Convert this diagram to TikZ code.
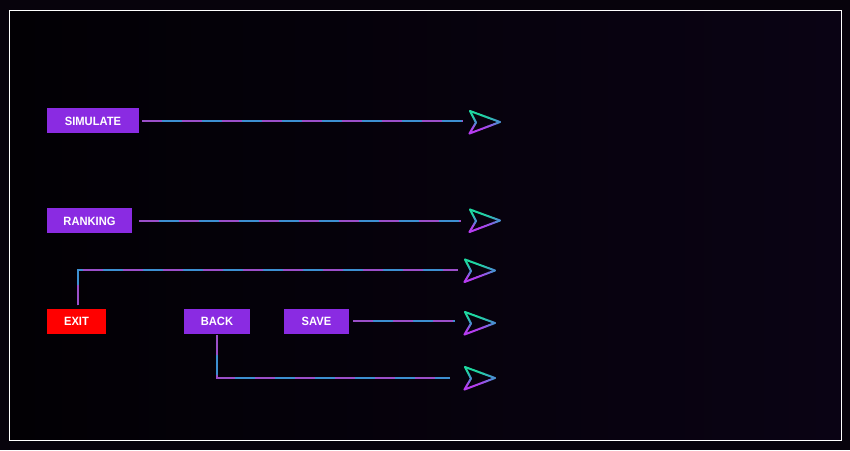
\documentclass[tikz,border=0pt]{standalone}
\usepackage{fontspec}
\setmainfont{Liberation Sans}
\newfontfamily\btnfont[FakeStretch=0.93]{Liberation Sans}
\definecolor{bgout}{HTML}{07030C}
\definecolor{bgleft}{HTML}{020004}
\definecolor{bgright}{HTML}{0A0314}
\definecolor{btnpurple}{HTML}{8A2BE2}
\definecolor{btnred}{HTML}{FF0000}
\definecolor{lineblue}{HTML}{3D8FD1}
\definecolor{linepurple}{HTML}{9B4FC9}
\definecolor{icongreen}{HTML}{1ED8A0}
\definecolor{iconblue}{HTML}{4A8FD0}
\definecolor{iconpurple}{HTML}{B63CF0}
\newcommand\gradseg[6]{%
  \foreach \i in {0,...,9}{%
    \pgfmathsetmacro\xa{#1+(#3-#1)*\i/10}%
    \pgfmathsetmacro\ya{#2+(#4-#2)*\i/10}%
    \pgfmathsetmacro\xb{#1+(#3-#1)*(\i+1)/10}%
    \pgfmathsetmacro\yb{#2+(#4-#2)*(\i+1)/10}%
    \pgfmathtruncatemacro\pc{100*(\i/9)^3}%
    \draw[iconstroke, color=#6!\pc!#5] (\xa,\ya) -- (\xb,\yb);
  }}
\tikzset{
  btn/.style={rectangle, inner sep=0pt, minimum height=25pt, text=white,
    font=\btnfont\bfseries\fontsize{12}{14}\selectfont, text depth=0pt, text height=9pt},
  purplebtn/.style={btn, fill=btnpurple},
  redbtn/.style={btn, fill=btnred},
  iconbox/.style={rectangle, inner sep=0pt, minimum width=31pt, minimum height=23pt},
  iconstroke/.style={line width=2pt, line cap=round},
  conn/.style={draw=lineblue, line width=2pt,
    postaction={draw=linepurple, line width=2pt, dash pattern=on 20pt off 20pt}},
  sendicon/.pic={
    \gradseg{-14.5}{-10.5}{15.5}{0.5}{icongreen}{iconblue}
    \gradseg{-15}{12}{15.5}{0.5}{iconpurple}{iconblue}
    \gradseg{-14.5}{-10.5}{-8.5}{1}{icongreen}{iconblue}
    \gradseg{-15}{12}{-8.5}{1}{iconpurple}{iconblue}
  }
}
\begin{document}
\begin{tikzpicture}[x=1pt, y=-1pt]
  \useasboundingbox (0,0) rectangle (850,450);
  \fill[bgout] (0,0) rectangle (850,450);
  \shade[left color=bgleft, right color=bgright] (9,10) rectangle (841,440);
  \draw[white, line width=1pt] (9,10) rectangle (841,440);

  % buttons
  \node[purplebtn, minimum width=92pt] (sim) at (93,120.5) {SIMULATE};
  \node[purplebtn, minimum width=85pt] (rank) at (89.5,220.5) {RANKING};
  \node[redbtn, minimum width=59pt] (exit) at (76.5,321) {EXIT};
  \node[purplebtn, minimum width=66pt] (back) at (217,321) {BACK};
  \node[purplebtn, minimum width=65pt] (save) at (316.5,321) {SAVE};

  % icons
  \node[iconbox] (i1) at (484.5,121.5) {};
  \node[iconbox] (i2) at (484.5,220) {};
  \node[iconbox] (i3) at (479.5,270) {};
  \node[iconbox] (i4) at (479.5,322.5) {};
  \node[iconbox] (i5) at (479.5,377.5) {};
  \pic at (i1) {sendicon};
  \pic at (i2) {sendicon};
  \pic at (i3) {sendicon};
  \pic at (i4) {sendicon};
  \pic at (i5) {sendicon};

  % connectors
  \draw[conn, shorten <=3pt, shorten >=6pt] (sim.east) -- (sim.east -| i1.west);
  \draw[conn, shorten <=7pt, shorten >=8pt] (rank.east) -- (rank.east -| i2.west);
  \draw[conn, shorten <=3pt, shorten >=6pt] ([xshift=1.5pt]exit.north) |- (i3.west);
  \draw[conn, shorten <=4pt, shorten >=9pt] (save.east) -- (save.east -| i4.west);
  \draw[conn, shorten <=1.5pt, shorten >=14pt] (back.south) |- (i5.west);
\end{tikzpicture}
\end{document}
